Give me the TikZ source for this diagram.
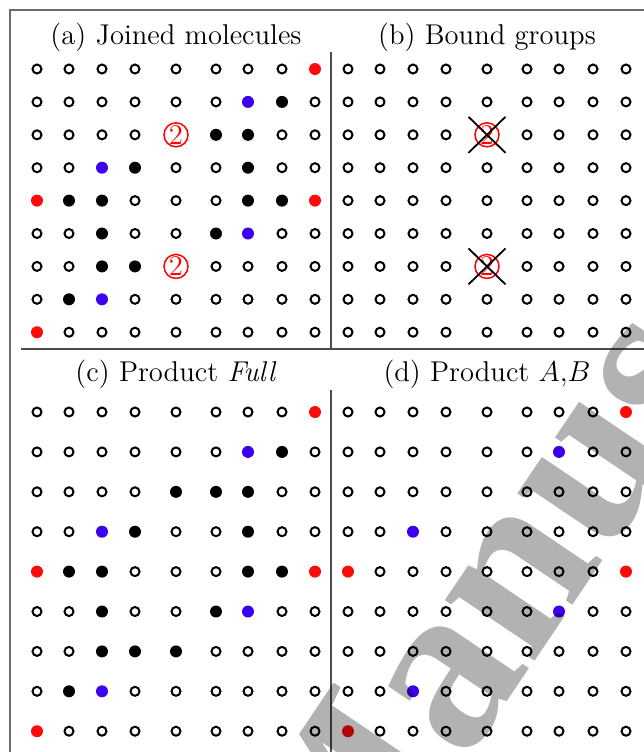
\documentclass[tikz,border=0pt]{standalone}
\usepackage{fontspec}
\newfontfamily\wmfont{Liberation Serif}
\usepackage{xcolor}
\usepackage{tikz}
\definecolor{atomRed}{HTML}{FF0A0A}
\definecolor{atomBlue}{HTML}{3C00F0}
\definecolor{frameGray}{HTML}{6A6A6A}
\newcommand{\titlefont}{\fontsize{14.3}{17}\selectfont}
% 9x9 sites of one panel: name, x shift, first row y, row pitch, rows
\newcommand{\sitegrid}[5]{%
  \foreach \row [count=\j] in {#5}{
    \foreach \c [count=\i] in \row{
      \pgfmathsetmacro{\px}{#2+{37,69,102,135,176,216,248,282,315}[\i-1]}
      \node[site\c] (#1-\i-\j) at (\px,{#3+#4*(\j-1)}) {};
    }
  }%
}

\begin{document}
\begin{tikzpicture}[
    x=0.5pt, y=-0.5pt,
    every node/.style={inner sep=0pt},
    title/.style={font=\titlefont},
    siteo/.style={circle, draw=black, line width=1pt, minimum size=4.5pt},
    sitek/.style={circle, fill=black, minimum size=6pt},
    siter/.style={circle, fill=atomRed, minimum size=6pt},
    siteb/.style={circle, fill=atomBlue, minimum size=6pt},
    site2/.style={circle, draw=red, line width=0.75pt, text=red, minimum size=12pt,
                  font=\titlefont, execute at begin node=2},
    frame/.style={draw=frameGray, line width=1pt},
    divider/.style={draw=black!70, line width=0.75pt},
    strike/.style={draw=black, line width=0.9pt},
    watermark/.style={font=\wmfont\bfseries\fontsize{118}{118}\selectfont, text=black, text opacity=0.3},
]
  \useasboundingbox (0,0) rectangle (644,752);
  \clip (0,0) rectangle (644,752);
  % frame and dividers
  \draw[frame] (10.5,752) -- (10.5,10) -- (644,10);
  \draw[divider] (21,349) -- (644,349);
  \draw[divider] (331,52) -- (331,349);
  \draw[divider] (331,390) -- (331,752);
  % titles
  \node[title] (ttl-a) at (176,37.5) {(a) Joined molecules};
  \node[title] (ttl-b) at (487,37.5) {(b) Bound groups};
  \node[title] (ttl-c) at (176,374.5) {(c) Product \textit{Full}};
  \node[title] (ttl-d) at (487,374.5) {(d) Product $A$,$B$};
  % (a) joined molecules
  \sitegrid{a}{0}{69}{32.9}{
    {o,o,o,o,o,o,o,o,r},{o,o,o,o,o,o,b,k,o},{o,o,o,o,2,k,k,o,o},
    {o,o,b,k,o,o,k,o,o},{r,k,k,o,o,o,k,k,r},{o,o,k,o,o,k,b,o,o},
    {o,o,k,k,2,o,o,o,o},{o,k,b,o,o,o,o,o,o},{r,o,o,o,o,o,o,o,o}}
  % (b) bound groups
  \sitegrid{b}{311}{69}{32.9}{
    {o,o,o,o,o,o,o,o,o},{o,o,o,o,o,o,o,o,o},{o,o,o,o,2,o,o,o,o},
    {o,o,o,o,o,o,o,o,o},{o,o,o,o,o,o,o,o,o},{o,o,o,o,o,o,o,o,o},
    {o,o,o,o,2,o,o,o,o},{o,o,o,o,o,o,o,o,o},{o,o,o,o,o,o,o,o,o}}
  \foreach \k in {3,7}{
    \draw[strike] (b-5-\k) ++(-18.5,-18) -- ++(37,36)
                  (b-5-\k) ++(18.5,-18) -- ++(-37,36);
  }
  % (c) product Full
  \sitegrid{c}{0}{412}{39.9}{
    {o,o,o,o,o,o,o,o,r},{o,o,o,o,o,o,b,k,o},{o,o,o,o,k,k,k,o,o},
    {o,o,b,k,o,o,k,o,o},{r,k,k,o,o,o,k,k,r},{o,o,k,o,o,k,b,o,o},
    {o,o,k,k,k,o,o,o,o},{o,k,b,o,o,o,o,o,o},{r,o,o,o,o,o,o,o,o}}
  % (d) product A,B
  \sitegrid{d}{311}{412}{39.9}{
    {o,o,o,o,o,o,o,o,r},{o,o,o,o,o,o,b,o,o},{o,o,o,o,o,o,o,o,o},
    {o,o,b,o,o,o,o,o,o},{r,o,o,o,o,o,o,o,r},{o,o,o,o,o,o,b,o,o},
    {o,o,o,o,o,o,o,o,o},{o,o,b,o,o,o,o,o,o},{r,o,o,o,o,o,o,o,o}}
  % watermark
  \node[watermark, rotate=56, anchor=base west] (wm) at (341,949) {Manuscript};
\end{tikzpicture}
\end{document}
